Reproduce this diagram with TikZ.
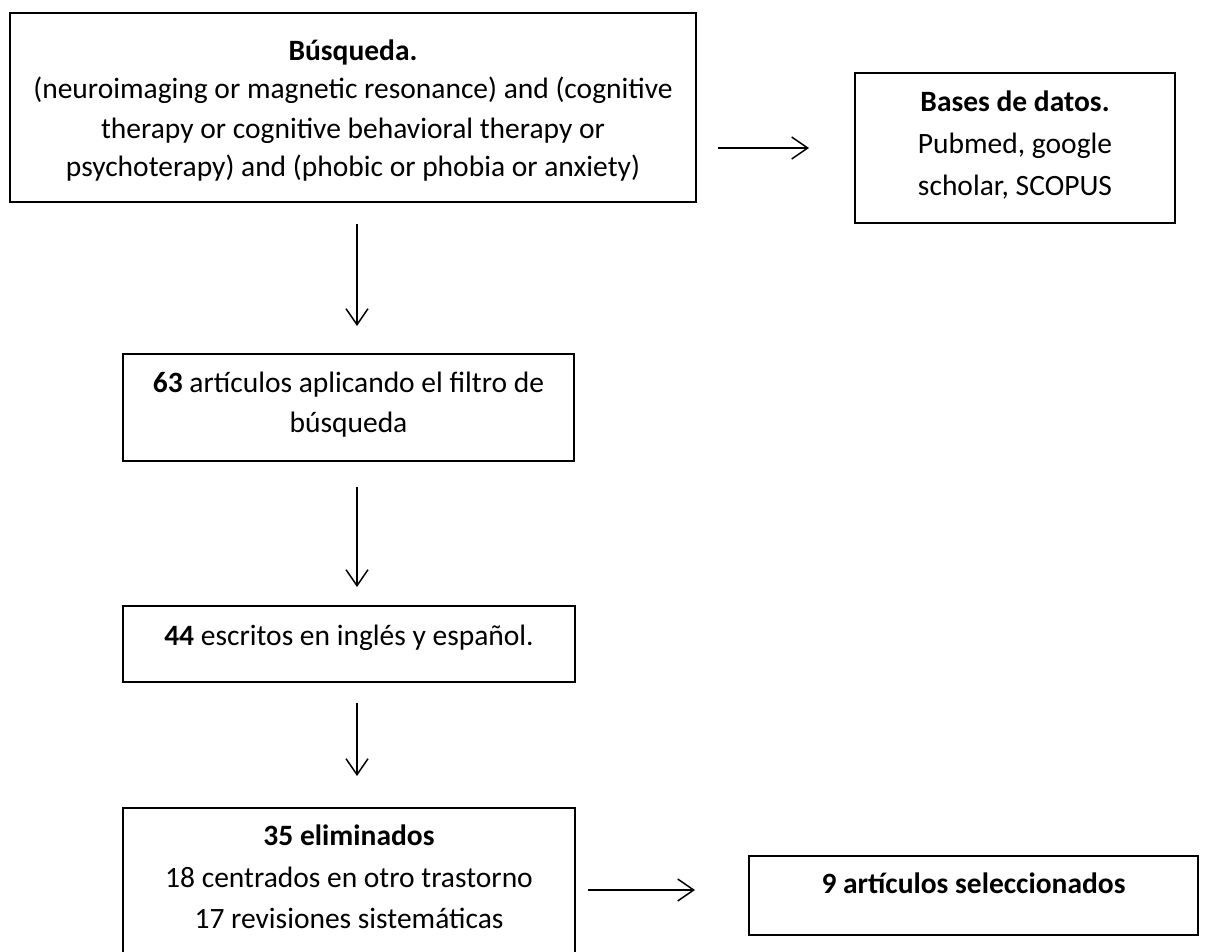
\documentclass[tikz,border=0pt]{standalone}
\usepackage{fontspec}
\setmainfont{Carlito}
\usetikzlibrary{arrows.meta}
\begin{document}
\begin{tikzpicture}[x=1pt,y=-1pt,
  box/.style={draw=black, line width=2pt, inner sep=0pt, minimum width=#1},
  txt/.style={anchor=base, inner sep=0pt, font=\fontsize{29.5pt}{40pt}\selectfont},
  arr/.style={line width=1.5pt, -{Straight Barb[length=16pt,width=22pt]}}]
\useasboundingbox (0,0) rectangle (1205,951);
% boxes
\node[box=686pt, minimum height=189pt] (b1) at (353,107.5) {};
\node[box=320pt, minimum height=150pt] (b2) at (1015,148) {};
\node[box=451pt, minimum height=107pt] (b3) at (348.5,407.5) {};
\node[box=452pt, minimum height=76pt] (b4) at (349,644) {};
\node[box=452pt, minimum height=160pt] (b5) at (349,888) {};
\node[box=449pt, minimum height=79pt] (b6) at (973.5,895.5) {};
% texts
\node[txt] (t1a) at (353,60) {\textbf{Búsqueda.}};
\node[txt] (t1b) at (353,98) {(neuroimaging or magnetic resonance) and (cognitive};
\node[txt] (t1c) at (353,138) {therapy or cognitive behavioral therapy or};
\node[txt] (t1d) at (353,176) {psychoterapy) and (phobic or phobia or anxiety)};
\node[txt] (t2a) at (1015,111) {\textbf{Bases de datos.}};
\node[txt] (t2b) at (1015,153) {Pubmed, google};
\node[txt] (t2c) at (1015,195) {scholar, SCOPUS};
\node[txt] (t3a) at (348.5,392) {\textbf{63} artículos aplicando el filtro de};
\node[txt] (t3b) at (348.5,432) {búsqueda};
\node[txt] (t4) at (349,645) {\textbf{44} escritos en inglés y español.};
\node[txt] (t5a) at (349,845) {\textbf{35 eliminados}};
\node[txt] (t5b) at (349,887) {18 centrados en otro trastorno};
\node[txt] (t5c) at (349,928) {17 revisiones sistemáticas};
\node[txt] (t6) at (973.5,893) {\textbf{9 artículos seleccionados}};
% connectors
\coordinate (ax) at (357,0);
\draw[arr, shorten <=21pt, shorten >=45pt] (b1.east |- b2.west) -- (b2.west);
\draw[arr, shorten <=21pt, shorten >=27pt] (b1.south -| ax) -- (b3.north -| ax);
\draw[arr, shorten <=25pt, shorten >=18pt] (b3.south -| ax) -- (b4.north -| ax);
\draw[arr, shorten <=20pt, shorten >=31pt] (b4.south -| ax) -- (b5.north -| ax);
\coordinate (ay) at (0,890);
\draw[arr, shorten <=12pt, shorten >=53pt] (b5.east |- ay) -- (b6.west |- ay);
\end{tikzpicture}
\end{document}
